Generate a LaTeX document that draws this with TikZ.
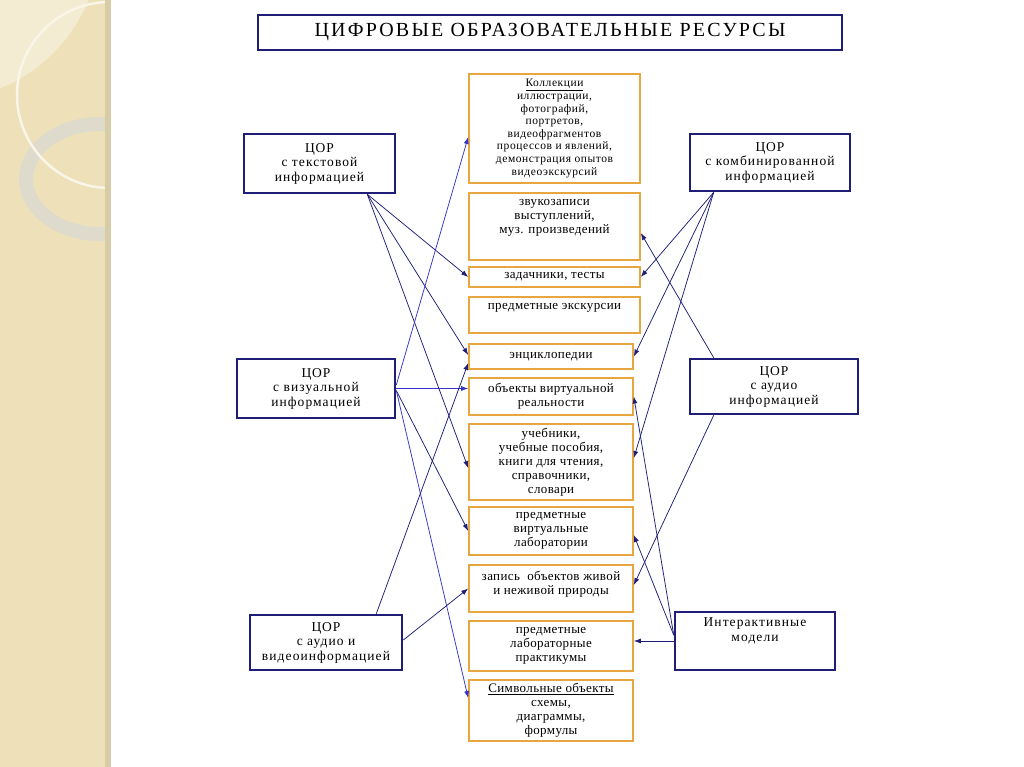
\documentclass[tikz,border=0pt]{standalone}
\usepackage{fontspec}
\setmainfont{Liberation Serif}
\newfontfamily\boxfont[LetterSpace=3]{Liberation Serif}
\newfontfamily\kollfont[LetterSpace=5]{Liberation Serif}
\newfontfamily\navyfont[LetterSpace=8]{Liberation Serif}
\newfontfamily\titlefont[LetterSpace=11]{Liberation Serif}
\usetikzlibrary{arrows.meta}
\definecolor{navy}{HTML}{1E1E78}
\definecolor{linkblue}{HTML}{3434C8}
\definecolor{corange}{HTML}{E8A640}
\definecolor{strip}{HTML}{EEE1BA}
\definecolor{stripl}{HTML}{F4ECD2}
\definecolor{stripedge}{HTML}{D8CCA6}
\definecolor{ringc}{HTML}{DEDACC}

\begin{document}
\begin{tikzpicture}[x=1pt, y=-1pt, >=Latex,
  every node/.style={font=\boxfont\fontsize{13}{14}\selectfont},
  nbox/.style={draw=navy, line width=2.6pt, align=center, inner sep=2pt,
    font=\navyfont\fontsize{13.5}{14.5}\selectfont},
  cbox/.style={draw=corange, line width=1.6pt, align=center, inner sep=2pt,
    minimum width=164pt},
  ctxt/.style={anchor=north, align=center, yshift=-5pt, inner sep=2pt},
  arr/.style={-{Latex[length=7pt, width=5pt]}, navy, line width=0.75pt},
  arrb/.style={arr, linkblue}]
  \useasboundingbox (0,0) rectangle (1024,767);
  \fill[white] (0,0) rectangle (1024,767);
  % left strip
  \begin{scope}
    \clip (0,0) rectangle (108,767);
    \fill[strip] (0,0) rectangle (108,767);
    \fill[stripl] (-60,-60) circle[radius=160pt];
    \draw[ringc, line width=14pt] (100,179) ellipse[x radius=74pt, y radius=55pt];
    \draw[white!50!stripl, line width=2.5pt] (110,95) circle[radius=93pt];
  \end{scope}
  \fill[stripedge] (105,0) rectangle (111,767);

  \node[nbox, minimum width=584pt, minimum height=35pt,
    font=\titlefont\fontsize{20}{22}\selectfont] (title) at (550,32.5)
    {ЦИФРОВЫЕ ОБРАЗОВАТЕЛЬНЫЕ РЕСУРСЫ};

  % kinds of resources
  \node[nbox, minimum width=151pt, minimum height=59pt] (ltext) at (319.5,163.5)
    {ЦОР\\с текстовой\\информацией};
  \node[nbox, minimum width=158pt, minimum height=59pt] (lvis) at (316,388.5)
    {ЦОР\\с визуальной\\информацией};
  \node[nbox, minimum width=152pt, minimum height=55pt] (lav) at (326,642.5)
    {ЦОР\\с аудио и\\видеоинформацией};
  \node[nbox, minimum width=160pt, minimum height=57pt] (rcomb) at (770,162.5)
    {ЦОР\\с комбинированной\\информацией};
  \node[nbox, minimum width=168pt, minimum height=55pt] (raud) at (774,386.5)
    {ЦОР\\с аудио\\информацией};
  \node[nbox, minimum width=160pt, minimum height=58pt,
    label={[ctxt, font=\navyfont\fontsize{13.5}{14.5}\selectfont]north:Интерактивные\\модели}] (rint) at (755,641) {};

  % middle column
  \node[cbox, minimum width=171pt, minimum height=109pt,
    font=\kollfont\fontsize{11.5}{12.6}\selectfont] (koll) at (554.5,128.5)
    {\underline{Коллекции}\\иллюстрации,\\фотографий,\\портретов,\\видеофрагментов\\процессов и явлений,\\демонстрация опытов\\видеоэкскурсий};
  \node[cbox, minimum width=171pt, minimum height=67pt,
    label={[ctxt]north:звукозаписи\\выступлений,\\муз. произведений}] (zvuk) at (554.5,226.5) {};
  \node[cbox, minimum width=171pt, minimum height=20pt] (zad) at (554.5,277)
    {задачники, тесты};
  \node[cbox, minimum width=171pt, minimum height=36pt,
    label={[ctxt]north:предметные экскурсии}] (eks) at (554.5,315) {};
  \node[cbox, minimum height=25pt] (encik) at (551,356.5) {энциклопедии};
  \node[cbox, minimum height=37pt] (obj) at (551,396.5)
    {объекты виртуальной\\реальности};
  \node[cbox, minimum height=76pt] (ucheb) at (551,462)
    {учебники,\\учебные пособия,\\книги для чтения,\\справочники,\\словари};
  \node[cbox, minimum height=48pt] (vlab) at (551,531)
    {предметные\\виртуальные\\лаборатории};
  \node[cbox, minimum height=47pt,
    label={[ctxt]north:запись~ объектов живой\\и неживой природы}] (zapis) at (551,588.5) {};
  \node[cbox, minimum height=50pt] (prakt) at (551,646)
    {предметные\\лабораторные\\практикумы};
  \node[cbox, minimum height=61pt] (simv) at (551,710.5)
    {\underline{Символьные объекты}\\схемы,\\диаграммы,\\формулы};

  % links from the left
  \draw[arr] ([xshift=-29pt]ltext.south east) -- (zad.west);
  \draw[arr] ([xshift=-29pt]ltext.south east) -- ([yshift=1.5pt]encik.west);
  \draw[arr] ([xshift=-29pt]ltext.south east) -- ([yshift=-6pt]ucheb.west);
  \draw[arrb] ([yshift=3.5pt]lvis.east) -- ([yshift=-8.5pt]koll.west);
  \draw[arrb] (lvis.east) -- (lvis.east -| obj.west);
  \draw[arr] ([yshift=-2pt]lvis.east) -- (vlab.west);
  \draw[arrb] ([yshift=-2pt]lvis.east) -- ([yshift=12.5pt]simv.west);
  \draw[arr] ([xshift=-27pt]lav.north east) -- ([yshift=-6.5pt]encik.west);
  \draw[arr] ([yshift=2.5pt]lav.east) -- (zapis.west);
  % links from the right
  \draw[arr] ([xshift=25pt]rcomb.south west) -- (zad.east);
  \draw[arr] ([xshift=25pt]rcomb.south west) -- (encik.east);
  \draw[arr] ([xshift=25pt]rcomb.south west) -- ([yshift=4pt]ucheb.east);
  \draw[arr] ([xshift=25pt]raud.north west) -- ([yshift=-6.5pt]zvuk.east);
  \draw[arr] ([xshift=25pt]raud.south west) -- ([yshift=3.5pt]zapis.east);
  \draw[arr] ([yshift=6pt]rint.west) -- (obj.east);
  \draw[arr] ([yshift=6pt]rint.west) -- ([yshift=-4pt]vlab.east);
  \draw[arr] (rint.west) -- (rint.west -| prakt.east);
\end{tikzpicture}
\end{document}
